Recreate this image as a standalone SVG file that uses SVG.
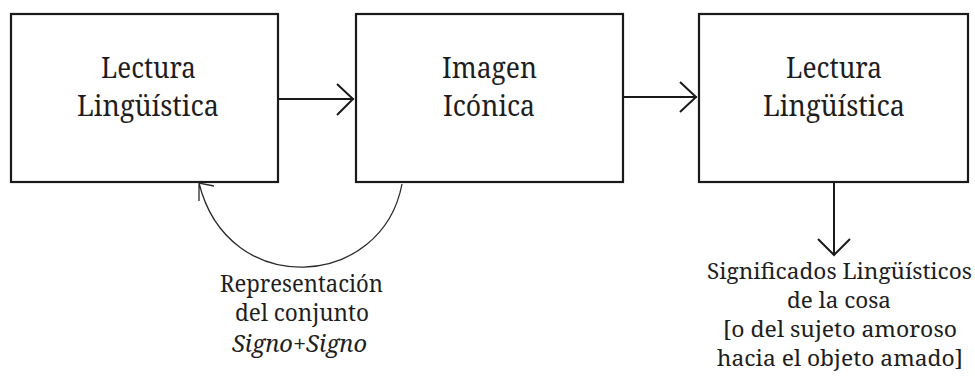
<svg xmlns="http://www.w3.org/2000/svg" width="975" height="377" viewBox="0 0 975 377">
<style>
.box{fill:#fff;stroke:#1a1a1a;stroke-width:2.2}
.ln{fill:none;stroke:#1a1a1a;stroke-width:2}
.thin{fill:none;stroke:#2a2a2a;stroke-width:1.3}
text{fill:#1e1e1e;font-family:'Noto Serif','DejaVu Serif',serif}
.big{font-size:29px}
.lab{font-size:23px}
.lab2{font-size:21px}
</style>
<rect width="975" height="377" fill="#fff"/>
<g id="node-lectura1">
<rect class="box" x="11" y="14" width="267" height="168"/>
<text class="big" x="101" y="78" textLength="95" lengthAdjust="spacingAndGlyphs">Lectura</text>
<text class="big" x="77" y="116" textLength="142" lengthAdjust="spacingAndGlyphs">Lingüística</text>
</g>
<g id="node-imagen">
<rect class="box" x="356" y="14" width="267" height="168"/>
<text class="big" x="442" y="78" textLength="95" lengthAdjust="spacingAndGlyphs">Imagen</text>
<text class="big" x="443" y="116" textLength="92" lengthAdjust="spacingAndGlyphs">Icónica</text>
</g>
<g id="node-lectura2">
<rect class="box" x="699" y="14" width="269" height="168"/>
<text class="big" x="786" y="78" textLength="96" lengthAdjust="spacingAndGlyphs">Lectura</text>
<text class="big" x="763" y="116" textLength="142" lengthAdjust="spacingAndGlyphs">Lingüística</text>
</g>
<g id="connectors">
<path class="ln" d="M278,99 H354 M337,84 L353,99 L337,115"/>
<path class="ln" d="M623,97 H697 M680,82 L696,97 L680,112"/>
<path class="ln" d="M834,182 V255 M818,239 L834,255 L850,239"/>
<path class="thin" d="M402,184 C382,290 228,300 199,183 M199,201 L199,183 L214,186"/>
</g>
<g id="label-representacion">
<text class="lab" x="220" y="292" textLength="163" lengthAdjust="spacingAndGlyphs">Representación</text>
<text class="lab" x="235" y="321" textLength="134" lengthAdjust="spacingAndGlyphs">del conjunto</text>
<text class="lab" x="232" y="352" font-style="italic" textLength="135" lengthAdjust="spacingAndGlyphs">Signo+Signo</text>
</g>
<g id="label-significados">
<text class="lab2" x="707" y="279" textLength="265" lengthAdjust="spacingAndGlyphs">Significados Lingüísticos</text>
<text class="lab2" x="787" y="308" textLength="104" lengthAdjust="spacingAndGlyphs">de la cosa</text>
<text class="lab2" x="723" y="337" textLength="234" lengthAdjust="spacingAndGlyphs">[o del sujeto amoroso</text>
<text class="lab2" x="717" y="366" textLength="246" lengthAdjust="spacingAndGlyphs">hacia el objeto amado]</text>
</g>
</svg>
